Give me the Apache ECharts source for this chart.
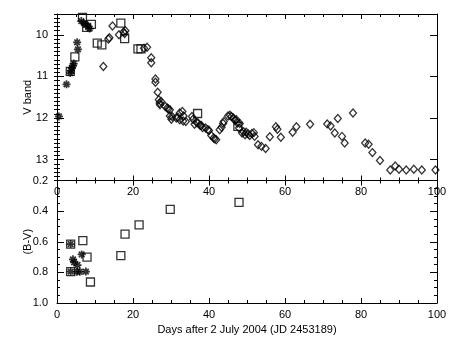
<!DOCTYPE html>
<html>
<head>
<meta charset="utf-8">
<script src="https://cdn.jsdelivr.net/npm/echarts@6/dist/echarts.min.js"></script>
<style>
  html, body { margin: 0; padding: 0; background: #fff; }
  #chart { width: 463px; height: 346px; }
</style>
</head>
<body>
<div id="chart"></div>
<script>
// V-band light curve: [day, magnitude]
const vAsterisks = [
  [0.5, 11.96], [2.5, 11.19], [3.5, 10.92], [3.7, 10.86], [3.9, 10.80], [4.2, 10.74],
  [4.4, 10.69], [5.3, 10.18], [5.5, 10.35], [6.4, 9.67], [7.1, 9.72], [7.6, 9.76],
  [8.2, 9.81], [8.6, 9.85]
];
const vSquares = [
  [3.5, 10.88], [4.7, 10.53], [6.7, 9.58], [7.8, 9.82], [9.05, 9.75], [10.6, 10.20],
  [11.8, 10.24], [16.8, 9.72], [17.8, 10.09], [21.3, 10.34], [22.1, 10.34],
  [37.0, 11.89], [47.6, 12.20]
];
const vDiamonds = [
  [12.2, 10.76], [13.5, 10.10], [13.8, 10.07], [14.6, 9.79], [16.3, 10.00], [17.5, 9.93],
  [17.8, 9.97], [18.0, 9.90], [22.9, 10.32], [23.7, 10.30], [24.8, 10.55], [24.8, 10.67],
  [25.9, 11.06], [25.9, 11.14], [26.5, 11.38], [26.8, 11.56], [27.0, 11.64], [27.4, 11.60],
  [27.1, 11.68], [28.5, 11.72], [29.0, 11.76], [29.3, 11.78], [29.7, 11.80], [29.7, 11.95],
  [30.1, 12.03], [30.3, 11.96], [31.4, 12.00], [31.8, 11.98], [32.3, 11.88], [32.3, 12.04],
  [33.0, 11.84], [33.3, 11.95], [33.2, 12.07], [33.9, 12.08], [35.5, 11.96], [35.8, 12.03],
  [36.2, 12.15], [36.7, 12.10], [37.1, 12.12], [37.6, 12.17], [38.0, 12.18], [38.3, 12.23],
  [39.1, 12.24], [39.7, 12.28], [40.0, 12.30], [40.6, 12.42], [41.2, 12.48], [41.5, 12.50],
  [41.9, 12.52], [42.8, 12.28], [43.3, 12.22], [43.7, 12.13], [43.9, 12.08], [45.0, 11.95],
  [45.5, 11.93], [45.9, 11.96], [46.4, 12.00], [46.8, 12.05], [47.2, 12.04], [47.5, 12.12],
  [48.1, 12.13], [47.9, 12.24], [48.7, 12.36], [49.1, 12.33], [49.5, 12.40], [49.8, 12.34],
  [50.3, 12.38], [50.7, 12.42], [51.3, 12.37], [51.8, 12.35], [52.0, 12.44], [52.9, 12.64],
  [53.8, 12.68], [54.9, 12.73], [56.0, 12.45], [57.6, 12.21], [58.0, 12.27], [58.9, 12.46],
  [62.0, 12.34], [63.0, 12.21], [66.6, 12.15], [71.1, 12.14], [72.0, 12.19], [73.1, 12.36],
  [73.9, 12.01], [75.0, 12.44], [75.7, 12.60], [77.9, 11.88], [81.1, 12.60], [82.0, 12.63],
  [83.0, 12.83], [85.0, 13.02], [87.7, 13.25], [89.0, 13.15], [90.0, 13.23], [91.9, 13.25],
  [93.9, 13.23], [96.0, 13.25], [99.6, 13.25]
];

// (B-V) colour curve: [day, colour]
const bvAsterisks = [
  [3.6, 0.615], [3.6, 0.795], [4.2, 0.715], [4.5, 0.735], [5.4, 0.752], [5.2, 0.796],
  [6.0, 0.796], [6.5, 0.683], [7.6, 0.795]
];
const bvSquares = [
  [3.6, 0.615], [3.6, 0.795], [6.8, 0.593], [7.9, 0.700], [8.8, 0.863], [16.8, 0.690],
  [17.9, 0.550], [21.6, 0.490], [29.8, 0.388], [47.9, 0.343]
];

// Axis ticks
const dayTicks = [0, 20, 40, 60, 80, 100];
const vTicks = [10, 11, 12, 13];
const bvTicks = [0.2, 0.4, 0.6, 0.8, 1.0];

const FONT = 'Liberation Sans';
const BLACK = '#000';
const labelStyle = { color: BLACK, fontFamily: FONT, fontSize: 11 };

function dayAxis(gridIndex, position, withLabels, name) {
  return {
    type: 'value', gridIndex, position,
    min: dayTicks[0], max: dayTicks[dayTicks.length - 1],
    interval: dayTicks[1] - dayTicks[0],
    axisLine: { show: true, onZero: false, lineStyle: { color: BLACK, width: 1 } },
    axisTick: { show: true, inside: true, length: 5, lineStyle: { color: BLACK, width: 1 } },
    minorTick: { show: true, splitNumber: 4, length: 3, lineStyle: { color: BLACK, width: 1 } },
    splitLine: { show: false },
    minorSplitLine: { show: false },
    axisLabel: Object.assign({ show: withLabels, margin: 6, showMinLabel: true, showMaxLabel: true, hideOverlap: false }, labelStyle),
    name: name || '',
    nameLocation: 'middle',
    nameGap: 21,
    nameMoveOverlap: false,
    nameTextStyle: labelStyle
  };
}

function vAxisMajor(position, withLabels, name) {
  return {
    type: 'value', gridIndex: 0, position, inverse: true,
    min: 9.5, max: 13.5,
    axisLine: { show: true, onZero: false, lineStyle: { color: BLACK, width: 1 } },
    axisTick: { show: true, inside: true, length: 7, customValues: vTicks, lineStyle: { color: BLACK, width: 1 } },
    splitLine: { show: false },
    axisLabel: Object.assign({ show: withLabels, margin: 9, customValues: vTicks }, labelStyle),
    name: name || '',
    nameLocation: 'middle',
    nameGap: 24,
    nameMoveOverlap: false,
    nameTextStyle: labelStyle
  };
}

function vAxisMinor(position) {
  return {
    type: 'value', gridIndex: 0, position, inverse: true,
    min: 9.5, max: 13.5, interval: 0.1,
    axisLine: { show: false },
    axisTick: { show: true, inside: true, length: 3, lineStyle: { color: BLACK, width: 1 } },
    splitLine: { show: false },
    axisLabel: { show: false }
  };
}

function bvAxis(position, withLabels, name) {
  return {
    type: 'value', gridIndex: 1, position, inverse: true,
    min: bvTicks[0], max: bvTicks[bvTicks.length - 1], interval: 0.2,
    axisLine: { show: true, onZero: false, lineStyle: { color: BLACK, width: 1 } },
    axisTick: { show: true, inside: true, length: 7, lineStyle: { color: BLACK, width: 1 } },
    minorTick: { show: true, splitNumber: 4, length: 3, lineStyle: { color: BLACK, width: 1 } },
    splitLine: { show: false },
    minorSplitLine: { show: false },
    axisLabel: Object.assign({ show: withLabels, margin: 9, showMinLabel: true, showMaxLabel: true,
      formatter: v => v.toFixed(1) }, labelStyle),
    name: name || '',
    nameLocation: 'middle',
    nameGap: 24,
    nameMoveOverlap: false,
    nameTextStyle: labelStyle
  };
}

const ASTERISK = 'path://M5,0L5,10M0,5L10,5M1.5,1.5L8.5,8.5M1.5,8.5L8.5,1.5';
const openStyle = { color: 'rgba(0,0,0,0)', borderColor: BLACK, borderWidth: 1.3 };
const starStyle = { color: BLACK, borderColor: BLACK, borderWidth: 1.7 };

function scatter(data, xi, yi, symbol, size, style) {
  return {
    type: 'scatter', xAxisIndex: xi, yAxisIndex: yi, data,
    symbol, symbolSize: size, itemStyle: style, clip: true,
    emphasis: { disabled: true }, silent: true
  };
}

const chart = echarts.init(document.getElementById('chart'));
chart.setOption({
  backgroundColor: '#fff',
  animation: false,
  grid: [
    { left: 57, top: 14, width: 380, height: 166.5, containLabel: false },
    { left: 57, top: 180.5, width: 380, height: 122.5, containLabel: false }
  ],
  xAxis: [
    dayAxis(0, 'bottom', true),
    dayAxis(0, 'top', false),
    dayAxis(1, 'bottom', true, 'Days after 2 July 2004 (JD 2453189)'),
    dayAxis(1, 'top', false)
  ],
  yAxis: [
    vAxisMajor('left', true, 'V band'),
    vAxisMinor('left'),
    vAxisMajor('right', false),
    vAxisMinor('right'),
    bvAxis('left', true, '(B-V)'),
    bvAxis('right', false)
  ],
  series: [
    scatter(vDiamonds, 0, 0, 'diamond', [7, 8], openStyle),
    scatter(vSquares, 0, 0, 'rect', 8, openStyle),
    scatter(vAsterisks, 0, 0, ASTERISK, 8, starStyle),
    scatter(bvSquares, 2, 4, 'rect', 8, openStyle),
    scatter(bvAsterisks, 2, 4, ASTERISK, 8, starStyle)
  ]
});
</script>
</body>
</html>
